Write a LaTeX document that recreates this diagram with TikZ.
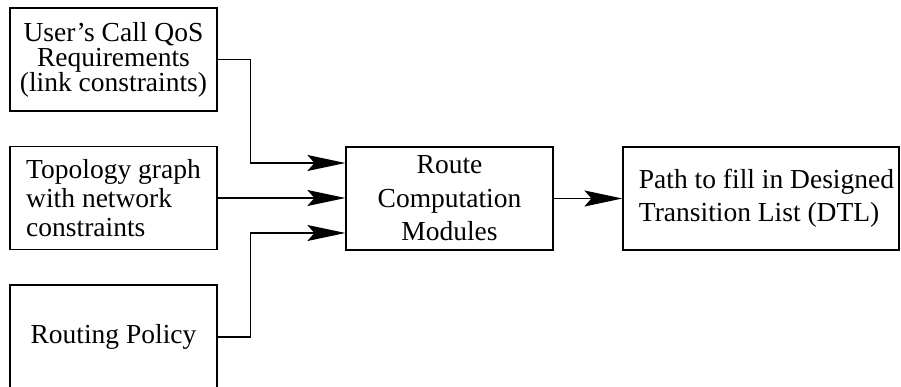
\documentclass[tikz,border=0pt]{standalone}
\usepackage{fontspec}
\setmainfont{Liberation Serif}
\usetikzlibrary{arrows.meta}
\begin{document}
\begin{tikzpicture}[x=1pt,y=-1pt,
  box/.style={draw, line width=1.2pt, minimum width=207pt, minimum height=103pt, inner sep=0pt},
  flow/.style={line width=1.7pt, -{Stealth[length=38pt,width=16pt,inset=7pt]}}]
\useasboundingbox (0,0) rectangle (901,387);

% input boxes
\node[box, align=center, font=\fontsize{27.5}{25}\selectfont] (qos) at (113.5,59.5)
  {User's Call QoS\\Requirements\\(link constraints)};
\node[box, align=left, font=\fontsize{27.5}{29}\selectfont] (topo) at (113.5,198)
  {Topology graph\\with network\\constraints};
\node[box, minimum height=104pt, font=\fontsize{27.5}{33}\selectfont] (policy) at (113.5,337)
  {Routing Policy};

% processing and output boxes
\node[box, align=center, font=\fontsize{27.5}{33.5}\selectfont] (route) at (449.5,198.5)
  {Route\\Computation\\Modules};
\node[box, minimum width=276pt, align=left, font=\fontsize{27.5}{33}\selectfont] (path) at (761,198.5)
  {\hspace*{11pt}Path to fill in Designed\\\hspace*{11pt}Transition List (DTL)};

% connectors
\draw[flow] (qos.east) -- ++(33,0) |- ([yshift=35.5pt]route.west);
\draw[flow] (topo.east) -- (topo.east -| route.west);
\draw[flow] (policy.east) -- ++(33,0) |- ([yshift=-34.5pt]route.west);
\draw[flow] (route.east) -- (path.west);
\end{tikzpicture}
\end{document}
